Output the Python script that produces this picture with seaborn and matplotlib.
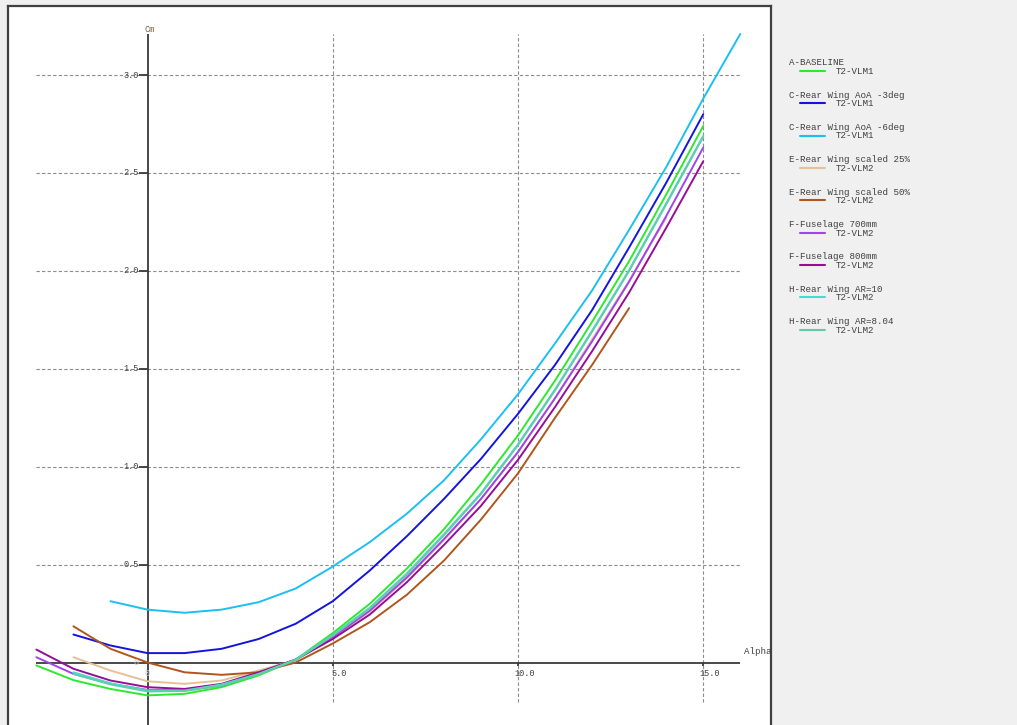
import pandas as pd
import matplotlib.pyplot as plt
import seaborn as sns
from matplotlib.lines import Line2D

# Cm vs Alpha polars
names = ['A-BASELINE', 'C-Rear Wing AoA -3deg', 'C-Rear Wing AoA -6deg',
         'E-Rear Wing scaled 25%', 'E-Rear Wing scaled 50%', 'F-Fuselage 700mm',
         'F-Fuselage 800mm', 'H-Rear Wing AR=10', 'H-Rear Wing AR=8.04']
analysis = ['T2-VLM1', 'T2-VLM1', 'T2-VLM1', 'T2-VLM2', 'T2-VLM2',
            'T2-VLM2', 'T2-VLM2', 'T2-VLM2', 'T2-VLM2']
colors = ['#2ee82e', '#1414e0', '#1cbff2', '#e6c096', '#b0561c',
          '#a044ee', '#960e96', '#48dccc', '#62ccaa']

alpha_baseline = list(range(-3, 16))
cm_baseline = [-0.015, -0.09, -0.135, -0.168, -0.16, -0.126, -0.066, 0.015, 0.15, 0.30,
               0.48, 0.68, 0.91, 1.16, 1.44, 1.74, 2.05, 2.39, 2.74]
alpha_aoa3 = list(range(-2, 16))
cm_aoa3 = [0.143, 0.087, 0.048, 0.048, 0.07, 0.12, 0.198, 0.313, 0.47, 0.645,
           0.835, 1.04, 1.27, 1.52, 1.80, 2.12, 2.45, 2.80]
alpha_aoa6 = list(range(-1, 17))
cm_aoa6 = [0.313, 0.27, 0.254, 0.27, 0.308, 0.378, 0.49, 0.615, 0.76, 0.93,
           1.14, 1.37, 1.63, 1.90, 2.21, 2.53, 2.88, 3.21]
alpha_sc25 = list(range(-2, 15))
cm_sc25 = [0.027, -0.041, -0.096, -0.109, -0.092, -0.041, 0.012, 0.125, 0.26, 0.43,
           0.625, 0.835, 1.075, 1.35, 1.65, 1.95, 2.27]
alpha_sc50 = list(range(-2, 14))
cm_sc50 = [0.185, 0.07, 0.0, -0.05, -0.063, -0.05, 0.0, 0.097, 0.206, 0.346,
           0.52, 0.73, 0.966, 1.25, 1.52, 1.81]
alpha_fus700 = list(range(-3, 16))
cm_fus700 = [0.027, -0.058, -0.109, -0.14, -0.14, -0.118, -0.055, 0.015, 0.13, 0.265,
             0.435, 0.63, 0.835, 1.075, 1.35, 1.64, 1.945, 2.28, 2.63]
alpha_fus800 = list(range(-3, 16))
cm_fus800 = [0.066, -0.032, -0.092, -0.126, -0.135, -0.109, -0.05, 0.015, 0.12, 0.245,
             0.41, 0.60, 0.80, 1.035, 1.305, 1.59, 1.89, 2.22, 2.56]
alpha_ar10 = list(range(-2, 16))
cm_ar10 = [-0.05, -0.106, -0.143, -0.143, -0.112, -0.058, 0.015, 0.14, 0.28, 0.455,
           0.655, 0.865, 1.115, 1.395, 1.695, 2.005, 2.345, 2.69]
alpha_ar804 = list(range(-2, 16))
cm_ar804 = [-0.058, -0.112, -0.148, -0.146, -0.118, -0.06, 0.012, 0.137, 0.276, 0.45,
            0.65, 0.86, 1.11, 1.39, 1.69, 2.0, 2.34, 2.685]

x_ticks = [5, 10, 15]
x_tick_labels = ['5.0', '10.0', '15.0']
y_ticks = [0.5, 1.0, 1.5, 2.0, 2.5, 3.0]
y_tick_labels = ['0.5', '1.0', '1.5', '2.0', '2.5', '3.0']

alphas = [alpha_baseline, alpha_aoa3, alpha_aoa6, alpha_sc25, alpha_sc50,
          alpha_fus700, alpha_fus800, alpha_ar10, alpha_ar804]
cms = [cm_baseline, cm_aoa3, cm_aoa6, cm_sc25, cm_sc50,
       cm_fus700, cm_fus800, cm_ar10, cm_ar804]
frames = [pd.DataFrame({'Alpha': a, 'Cm': c, 'polar': n}) for a, c, n in zip(alphas, cms, names)]
df = pd.concat(frames, ignore_index=True)

W, H = 1017, 725
sns.set_theme(style='white')
plt.rcParams['font.family'] = ['Liberation Mono', 'DejaVu Sans Mono']

fig = plt.figure(figsize=(W / 100, H / 100), dpi=100, facecolor='#f0f0f0')

# pixel -> data mapping of the reference: px = 147.5 + 37.05*alpha, py = 662.5 - 195.8*Cm
x0, sx = 147.5, 37.05
y0, sy = 662.5, 195.8
left, right, top, bottom = 8, 771, 6, 725
ax = fig.add_axes([left / W, 1 - bottom / H, (right - left) / W, (bottom - top) / H])
ax.set_facecolor('white')
ax.set_xlim((left - x0) / sx, (right - x0) / sx)
ax.set_ylim((y0 - bottom) / sy, (y0 - top) / sy)
ax.set_xticks([])
ax.set_yticks([])
for side in ['left', 'top', 'right']:
    ax.spines[side].set_color('#404040')
    ax.spines[side].set_linewidth(1.6)
ax.spines['bottom'].set_visible(False)

grid_col = '#8c8c8c'
dash = (0, (3, 2))
ax.hlines(y_ticks, -3, 16, colors=grid_col, lw=0.8, linestyles=dash, zorder=1)
ax.vlines(x_ticks, -0.2, 3.21, colors=grid_col, lw=0.8, linestyles=dash, zorder=1)

# main axes
ax.hlines(0, -3, 16, colors='#3a3a3a', lw=1.3, zorder=2)
ax.vlines(0, -0.33, 3.21, colors='#3a3a3a', lw=1.3, zorder=2)
ax.vlines(x_ticks, -0.02, 0, colors='#3a3a3a', lw=1.3, zorder=2)
ax.hlines(y_ticks, -0.22, 0, colors='#3a3a3a', lw=1.3, zorder=2)

sns.lineplot(data=df, x='Alpha', y='Cm', hue='polar', palette=dict(zip(names, colors)),
             hue_order=names, estimator=None, sort=False, legend=False, lw=1.4, ax=ax, zorder=3)
ax.set_xlabel('')
ax.set_ylabel('')

tick_col = '#404040'
for xt, lab in zip(x_ticks, x_tick_labels):
    ax.text(xt + 0.18, -0.035, lab, ha='center', va='top', fontsize=6.2, color=tick_col)
for yt, lab in zip(y_ticks, y_tick_labels):
    ax.text(-0.24, yt, lab, ha='right', va='center', fontsize=6.2, color=tick_col)
ax.text(0.0, -0.035, '0', ha='center', va='top', fontsize=6.2, color='#c4c4c4')
ax.text(-0.24, 0.0, '0', ha='right', va='center', fontsize=6.2, color='#c4c4c4')

fig.text(150 / W, 1 - 29 / H, 'Cm', ha='center', va='center', fontsize=6.2, color='#7a6040')
fig.text(744 / W, 1 - 652 / H, 'Alpha', ha='left', va='center', fontsize=6.6, color='#404040')

# legend in the right panel
for i, (n, a, c) in enumerate(zip(names, analysis, colors)):
    yn = 62.7 + 32.35 * i
    yl = 70.8 + 32.35 * i
    fig.text(789 / W, 1 - yn / H, n, ha='left', va='center', fontsize=6.6, color='#404040')
    fig.add_artist(Line2D([800 / W, 825 / W], [1 - yl / H, 1 - yl / H], color=c, lw=1.5))
    fig.text(836 / W, 1 - (yl + 0.5) / H, a, ha='left', va='center', fontsize=6.6, color='#404040')

fig.savefig('out.png', dpi=100, facecolor=fig.get_facecolor())
